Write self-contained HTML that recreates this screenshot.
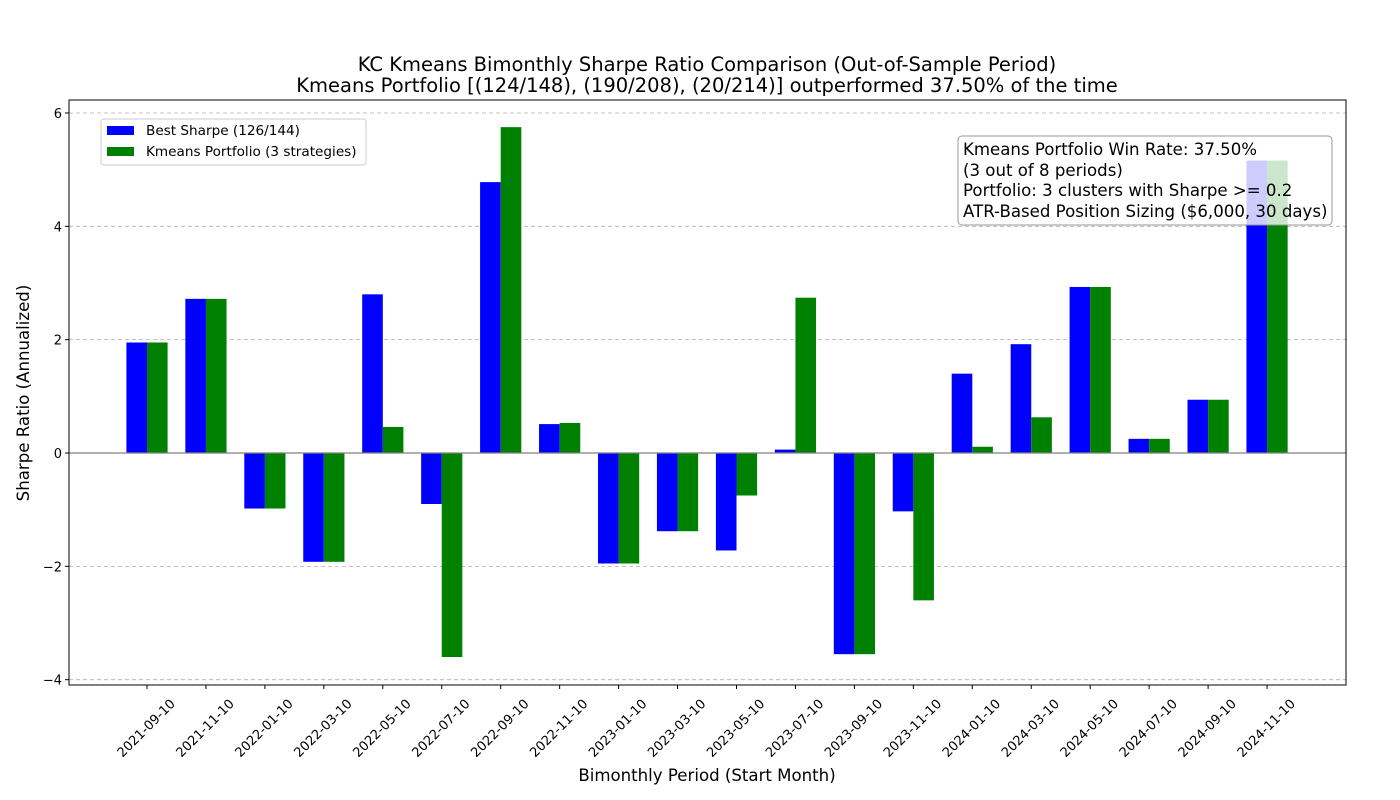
<!DOCTYPE html>
<html><head><meta charset="utf-8"><style>
html,body{margin:0;padding:0;background:#fff;}
svg{display:block;font-family:"DejaVu Sans","Liberation Sans",sans-serif;}
</style></head><body>
<svg id="chart" width="1400" height="800" xmlns="http://www.w3.org/2000/svg">
<text x="707" y="71" text-anchor="middle" font-size="19.5">KC Kmeans Bimonthly Sharpe Ratio Comparison (Out-of-Sample Period)</text>
<text x="707" y="92" text-anchor="middle" font-size="19.5">Kmeans Portfolio [(124/148), (190/208), (20/214)] outperformed 37.50% of the time</text>
<g id="grid"></g><g id="bars"></g><g id="axes"></g>
<text x="707" y="781" text-anchor="middle" font-size="16.6">Bimonthly Period (Start Month)</text>
<text transform="translate(29,393) rotate(-90)" text-anchor="middle" font-size="16.6">Sharpe Ratio (Annualized)</text>
<g>
<rect x="101" y="119" width="265" height="46" rx="3" fill="#fff" fill-opacity="0.8" stroke="#ccc"/>
<rect x="107" y="126" width="27" height="9" fill="#0000ff"/>
<text x="146" y="135" font-size="13.6">Best Sharpe (126/144)</text>
<rect x="107" y="147" width="27" height="9" fill="#008000"/>
<text x="146" y="156" font-size="13.6">Kmeans Portfolio (3 strategies)</text>
</g>
<g>
<rect x="958" y="136" width="374" height="89" rx="4" fill="#fff" fill-opacity="0.8" stroke="#999"/>
<text x="963" y="155" font-size="16.6">Kmeans Portfolio Win Rate: 37.50%</text>
<text x="963" y="176" font-size="16.6">(3 out of 8 periods)</text>
<text x="963" y="196" font-size="16.6">Portfolio: 3 clusters with Sharpe &gt;= 0.2</text>
<text x="963" y="217" font-size="16.6">ATR-Based Position Sizing ($6,000, 30 days)</text>
</g>
</svg>
<script>
const categories=["2021-09-10","2021-11-10","2022-01-10","2022-03-10","2022-05-10","2022-07-10","2022-09-10","2022-11-10","2023-01-10","2023-03-10","2023-05-10","2023-07-10","2023-09-10","2023-11-10","2024-01-10","2024-03-10","2024-05-10","2024-07-10","2024-09-10","2024-11-10"];
const bestSharpe=[1.95,2.72,-0.98,-1.92,2.80,-0.90,4.78,0.51,-1.95,-1.38,-1.72,0.06,-3.55,-1.03,1.40,1.92,2.93,0.25,0.94,5.16];
const kmeansSharpe=[1.95,2.72,-0.98,-1.92,0.46,-3.60,5.75,0.53,-1.95,-1.38,-0.75,2.74,-3.55,-2.60,0.11,0.63,2.93,0.25,0.94,5.16];
const yTicks=[-4,-2,0,2,4,6];
const NS="http://www.w3.org/2000/svg";
const L=69,R=1346,T=100,B=685;
function y(v){return 453-v*56.67;}
function xc(i){return 147+i*58.95;}
const bw=20.6;
function mk(tag,attrs,parent){const e=document.createElementNS(NS,tag);for(const k in attrs)e.setAttribute(k,attrs[k]);parent.appendChild(e);return e;}
const grid=document.getElementById('grid'),bars=document.getElementById('bars'),axes=document.getElementById('axes');
yTicks.forEach(t=>{
  const g=mk('line',{x1:L,x2:R,y1:y(t),y2:y(t),stroke:'#b0b0b0','stroke-width':0.8,'stroke-dasharray':'4,3'},grid);
  
  
  const tk=mk('line',{x1:L-4,x2:L,y1:y(t),y2:y(t),stroke:'#000'},axes);
  
  
  const tx=mk('text',{x:L-7,y:y(t)+5,'text-anchor':'end','font-size':13},axes);
  tx.textContent=String(t).replace('-','\u2212');
  
  
});
categories.forEach((c,i)=>{
  const b1=mk('rect',{x:xc(i)-bw,width:bw,y:Math.min(y(0),y(bestSharpe[i])),height:Math.abs(y(bestSharpe[i])-y(0)),fill:'#0000ff'},bars);
  
  
  const b2=mk('rect',{x:xc(i),width:bw,y:Math.min(y(0),y(kmeansSharpe[i])),height:Math.abs(y(kmeansSharpe[i])-y(0)),fill:'#008000'},bars);
  
  
  const tk=mk('line',{x1:xc(i),x2:xc(i),y1:B,y2:B+4,stroke:'#000'},axes);
  
  
  const cx=xc(i)-1, cy=B+43;
  const tx=mk('text',{x:cx,y:cy+4.5,'text-anchor':'middle','font-size':13,transform:`rotate(-45 ${cx} ${cy})`},axes);
  tx.textContent=c;
  
  
});
const zl=mk('line',{x1:L,x2:R,y1:y(0),y2:y(0),stroke:'#808080','stroke-width':1.2},axes);


const fr=mk('rect',{x:L,y:T,width:R-L,height:B-T,fill:'none',stroke:'#000'},axes);


</script>
</body></html>
